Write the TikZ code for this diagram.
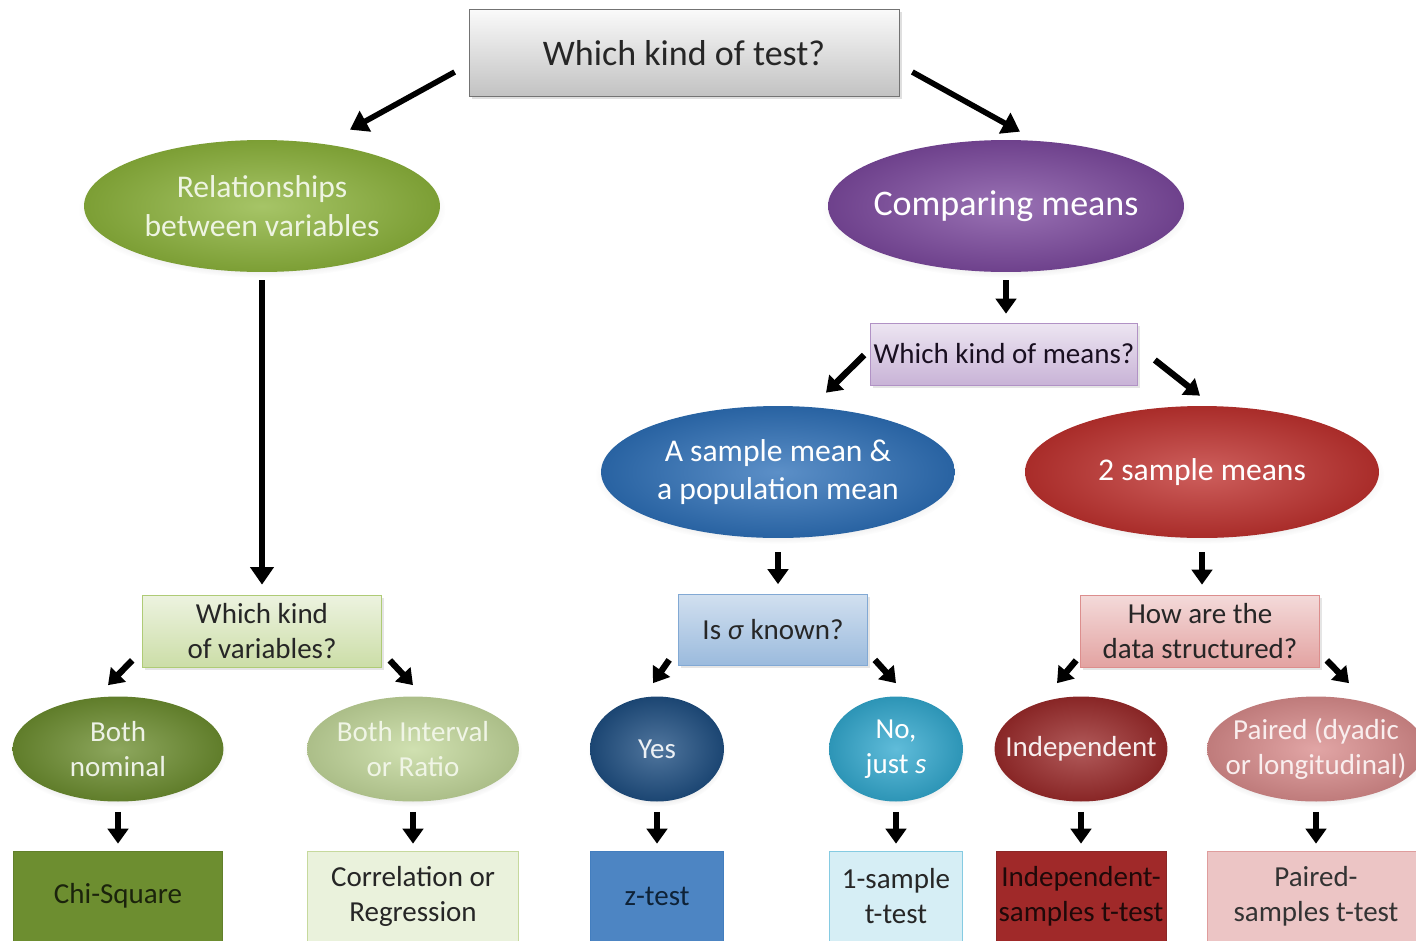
\documentclass[tikz,border=0pt]{standalone}
\usepackage{fontspec}
\setmainfont{Carlito}
\usepackage{xcolor}
\usepackage{tikz}
\usetikzlibrary{shapes.geometric,arrows.meta,shadows,calc}

\definecolor{relC}{HTML}{8DB43C}
\definecolor{compC}{HTML}{7D4A9F}
\definecolor{oneC}{HTML}{2E70B8}
\definecolor{twoC}{HTML}{C0322F}
\definecolor{nomC}{HTML}{6D8E30}
\definecolor{intC}{HTML}{C3D89B}
\definecolor{yesC}{HTML}{1F4F82}
\definecolor{justC}{HTML}{33A9CF}
\definecolor{indC}{HTML}{9B2B2B}
\definecolor{parC}{HTML}{D98C8C}

\begin{document}
\begin{tikzpicture}[x=0.02cm,y=-0.02cm]
        \tikzset{ell/.style = {ellipse, inner xsep=-4mm, inner ysep=0pt, align=center,
                    inner color=#1!78!white, outer color=#1!88!black,
                    circular drop shadow={opacity=.18, shadow xshift=0pt, shadow yshift=-2pt, shadow scale=1.03}},
                 leaf/.style = {ell=#1, minimum height=2.1cm, font=\fontsize{16.5}{20}\selectfont},
                 qbox/.style = {rectangle, inner sep=0pt, align=center, font=\fontsize{16.5}{20}\selectfont,
                    drop shadow={opacity=.2, shadow xshift=1.5pt, shadow yshift=-1.5pt}},
                 abox/.style = {rectangle, inner sep=0pt, align=center, minimum height=1.8cm,
                    font=\fontsize{16.5}{20}\selectfont},
                 big arrow/.style = {line width=3.2pt, -{Triangle[width=13pt,length=10pt]}},
                 small arrow/.style = {line width=3.6pt, -{Triangle[width=11.5pt,length=8.5pt]}}}
        \useasboundingbox[fill=white] (0,0) rectangle (1416,940);
        \node[draw=black!55, top color=black!2, bottom color=black!24, minimum width=8.6cm, minimum height=1.74cm,
              font=\fontsize{20.5}{24}\selectfont, text=black!85,
              drop shadow={opacity=.25, shadow xshift=1.5pt, shadow yshift=-1.5pt}] (top) at (684,53) {Which kind of test?};
        \node[ell=relC, minimum width=7.12cm, minimum height=2.64cm, font=\fontsize{18}{22}\selectfont,
              text=relC!15!white] (rel) at (262,206) {Relationships\\between variables};
        \node[ell=compC, minimum width=7.12cm, minimum height=2.64cm, font=\fontsize{20.5}{24}\selectfont,
              text=white] (comp) at (1006,206) {Comparing means};
        \node[qbox, draw=compC!60, top color=compC!14, bottom color=compC!42, minimum width=5.34cm, minimum height=1.24cm,
              text=compC!20!black] (kindmeans) at (1004,354) {Which kind of means?};
        \node[ell=oneC, minimum width=7.08cm, minimum height=2.64cm, font=\fontsize{18}{22}\selectfont,
              text=white] (onemean) at (778,472) {A sample mean \&\\a population mean};
        \node[ell=twoC, minimum width=7.08cm, minimum height=2.64cm, font=\fontsize{18}{22}\selectfont,
              text=white] (twomeans) at (1202,472) {2 sample means};
        \node[qbox, draw=relC!70, top color=relC!16, bottom color=relC!45, minimum width=4.78cm, minimum height=1.44cm,
              text=black!85] (kindvars) at (262,631) {Which kind\\of variables?};
        \node[qbox, draw=oneC!60, top color=oneC!22, bottom color=oneC!48, minimum width=3.78cm, minimum height=1.42cm,
              text=black!85] (sigma) at (773,630) {Is \textit{σ} known?};
        \node[qbox, draw=twoC!55, top color=twoC!18, bottom color=twoC!45, minimum width=4.78cm, minimum height=1.44cm,
              text=black!85] (datastr) at (1200,631) {How are the\\data structured?};
        \node[leaf=nomC, minimum width=4.22cm, text=nomC!12!white] (nominal) at (118,749) {Both\\nominal};
        \node[leaf=intC, minimum width=4.24cm, text=intC!25!white] (interval) at (413,749) {Both Interval\\or Ratio};
        \node[leaf=yesC, minimum width=2.68cm, text=yesC!8!white] (yes) at (657,749) {Yes};
        \node[leaf=justC, minimum width=2.68cm, text=white] (justs) at (896,749) {No,\\just \textit{s}};
        \node[leaf=indC, minimum width=3.46cm, text=indC!8!white] (indep) at (1081,749) {Independent};
        \node[leaf=parC, minimum width=4.36cm, text=parC!15!white] (paired) at (1316,749) {Paired (dyadic\\or longitudinal)};
        \node[abox, draw=nomC!90!black, fill=nomC, minimum width=4.18cm, text=nomC!25!black] (chisq) at (118,896) {Chi-Square};
        \node[abox, draw=relC!50, fill=relC!18, minimum width=4.22cm, text=black!85] (corr) at (413,896) {Correlation or\\Regression};
        \node[abox, draw=oneC!90, fill=oneC!85!white, minimum width=2.66cm, text=oneC!30!black] (ztest) at (657,896) {z-test};
        \node[abox, draw=justC!60, fill=justC!20, minimum width=2.66cm, text=black!85] (onet) at (896,896) {1-sample\\t-test};
        \node[abox, draw=indC!90!black, fill=indC!95!red, minimum width=3.4cm, text=indC!20!black] (indept) at (1081,896) {Independent-\\samples t-test};
        \node[abox, draw=parC!85, fill=parC!50, minimum width=4.36cm, text=black!80] (pairedt) at (1316,896) {Paired-\\samples t-test};
        \draw[big arrow] ($(top.west)+(-14,19)$) -- ($(rel.north)+(88,-10)$);
        \draw[big arrow] ($(top.east)+(13,19)$) -- ($(comp.north)+(14,-8)$);
        \draw[big arrow] ($(rel.south)+(0,8)$) -- ($(kindvars.north)+(0,-10)$);
        \draw[small arrow] ($(comp.south)+(0,8)$) -- ($(kindmeans.north)+(2,-9)$);
        \draw[small arrow] ($(kindmeans.west)+(-6,1)$) -- ($(onemean.north)+(48,-13)$);
        \draw[small arrow] ($(kindmeans.east)+(17,6)$) -- ($(twomeans.north)+(-2,-10)$);
        \draw[small arrow] ($(onemean.south)+(0,14)$) -- ($(sigma.north)+(5,-10)$);
        \draw[small arrow] ($(twomeans.south)+(0,14)$) -- ($(datastr.north)+(2,-10)$);
        \draw[small arrow] ($(kindvars.south west)+(-10,-7)$) -- ($(nominal.north)+(-10,-11)$);
        \draw[small arrow] ($(kindvars.south east)+(8,-7)$) -- ($(interval.north)+(0,-11)$);
        \draw[small arrow] ($(sigma.south west)+(-9,-6)$) -- ($(yes.north)+(-4,-13)$);
        \draw[small arrow] ($(sigma.south east)+(7,-6)$) -- ($(justs.north)+(0,-13)$);
        \draw[small arrow] ($(datastr.south west)+(-4,-7)$) -- ($(indep.north)+(-24,-13)$);
        \draw[small arrow] ($(datastr.south east)+(7,-7)$) -- ($(paired.north)+(33,-13)$);
        \draw[small arrow] ($(nominal.south)+(0,10)$) -- ($(chisq.north)+(0,-7)$);
        \draw[small arrow] ($(interval.south)+(0,10)$) -- ($(corr.north)+(0,-7)$);
        \draw[small arrow] ($(yes.south)+(0,10)$) -- ($(ztest.north)+(0,-7)$);
        \draw[small arrow] ($(justs.south)+(0,10)$) -- ($(onet.north)+(0,-7)$);
        \draw[small arrow] ($(indep.south)+(0,10)$) -- ($(indept.north)+(0,-7)$);
        \draw[small arrow] ($(paired.south)+(0,10)$) -- ($(pairedt.north)+(0,-7)$);
    \end{tikzpicture}
\end{document}
